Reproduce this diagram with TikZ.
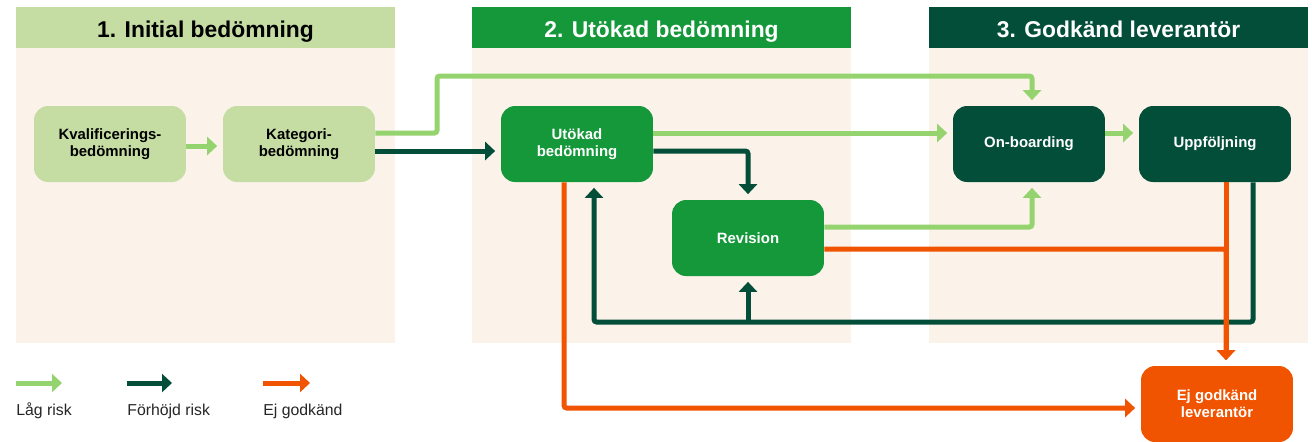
\documentclass[tikz,border=0pt]{standalone}
\usepackage{fontspec}
\setmainfont{Liberation Sans}
\usetikzlibrary{arrows.meta,calc,positioning}

\definecolor{paleGreen}{HTML}{C5DDA3}
\definecolor{midGreen}{HTML}{15983A}
\definecolor{deepGreen}{HTML}{034E38}
\definecolor{lowGreen}{HTML}{95D36F}
\definecolor{rejectOrange}{HTML}{F05400}
\definecolor{sand}{HTML}{FBF3EA}

\begin{document}
\begin{tikzpicture}[x=0.02cm, y=-0.02cm]
	\tikzstyle{Head}	= [minimum width=7.58cm, minimum height=0.82cm, inner sep=0pt, text height=12pt, text depth=1pt, font=\fontsize{13}{15}\selectfont\bfseries]
	\tikzstyle{Box}		= [rounded corners=0.28cm, minimum width=3.04cm, minimum height=1.52cm, inner sep=0pt, align=center, font=\fontsize{8.5}{9.8}\selectfont\bfseries]
	\tikzstyle{Pale}	= [fill=paleGreen, text=black]
	\tikzstyle{Mid}		= [fill=midGreen, text=white]
	\tikzstyle{Deep}	= [fill=deepGreen, text=white]
	\tikzstyle{Reject}	= [fill=rejectOrange, text=white]
	\tikzstyle{Flow}	= [line width=0.1cm, rounded corners=1.5pt, -{Triangle[length=0.2cm,width=0.36cm]}, shorten >=0.11cm]
	\tikzstyle{Low}		= [Flow, lowGreen]
	\tikzstyle{High}	= [Flow, deepGreen]
	\tikzstyle{NotOK}	= [Flow, rejectOrange]
	\tikzstyle{Legend}	= [anchor=west, inner sep=0pt, font=\fontsize{9}{11}\selectfont, text=black!85]

	\useasboundingbox (0,0) rectangle (1312,441);

	% panels
	\fill [sand] (16,48) rectangle (395,343);
	\fill [sand] (472,48) rectangle (851,343);
	\fill [sand] (929,48) rectangle (1308,343);
	\node (hdInit) at (205.5,27.5) [Head][fill=paleGreen, text=black] {1. Initial bedömning};
	\node (hdExt) at (661.5,27.5) [Head][fill=midGreen, text=white] {2. Utökad bedömning};
	\node (hdOk) at (1118.5,27.5) [Head][fill=deepGreen, text=white] {3. Godkänd leverantör};

	% steps
	\node (kval) at (110,144) [Box][Pale] {Kvalificerings-\\bedömning};
	\node (kat) at (299,144) [Box][Pale] {Kategori-\\bedömning};
	\node (utok) at (577,144) [Box][Mid] {Utökad\\bedömning};
	\node (rev) at (748,238) [Box][Mid] {Revision};
	\node (onb) at (1029,144) [Box][Deep] {On-boarding};
	\node (upp) at (1215,144) [Box][Deep] {Uppföljning};
	\node (ej) at (1217,404) [Box][Reject] {Ej godkänd\\leverantör};

	\coordinate (upBend) at (437,76);
	\coordinate (loopLeft) at (594,322);

	% flows
	\draw [Low] ($(kval.east)+(0,2)$) -- ($(kat.west)+(0,2)$);
	\draw [Low] ($(kat.east)+(0,-11)$) -| (upBend) -| ($(onb.north)+(3,0)$);
	\draw [High] ($(kat.east)+(0,7)$) -- ($(utok.west)+(0,7)$);
	\draw [Low] ($(utok.east)+(0,-11)$) -- ($(onb.west)+(0,-11)$);
	\draw [Low] ($(onb.east)+(0,-11)$) -- ($(upp.west)+(0,-11)$);
	\draw [High] ($(utok.east)+(0,7)$) -| (rev.north);
	\draw [Low] ($(rev.east)+(0,-11)$) -| ($(onb.south)+(3,0)$);
	\draw [High] ($(upp.south)+(38,0)$) |- (loopLeft) -- ($(utok.south)+(17,0)$);
	\draw [High] (rev.south |- loopLeft) -- (rev.south);
	\draw [NotOK] ($(rev.east)+(0,11)$) -| ($(ej.north)+(9,0)$);
	\draw [NotOK] ($(upp.south)+(11,0)$) -- ($(ej.north)+(9,0)$);
	\draw [NotOK] ($(utok.south)+(-13,0)$) |- ($(ej.west)+(0,4)$);

	% legend
	\coordinate (lowA) at (16,383);
	\coordinate (lowB) at (62,383);
	\coordinate (highA) at (127,383);
	\coordinate (highB) at (172,383);
	\coordinate (rejA) at (263,383);
	\coordinate (rejB) at (310,383);
	\draw [Low, shorten >=0pt] (lowA) -- (lowB);
	\draw [High, shorten >=0pt] (highA) -- (highB);
	\draw [NotOK, shorten >=0pt] (rejA) -- (rejB);
	\node (lowTxt) at (16,411) [Legend] {Låg risk};
	\node (highTxt) at (127,411) [Legend] {Förhöjd risk};
	\node (rejTxt) at (263,411) [Legend] {Ej godkänd};
\end{tikzpicture}
\end{document}
